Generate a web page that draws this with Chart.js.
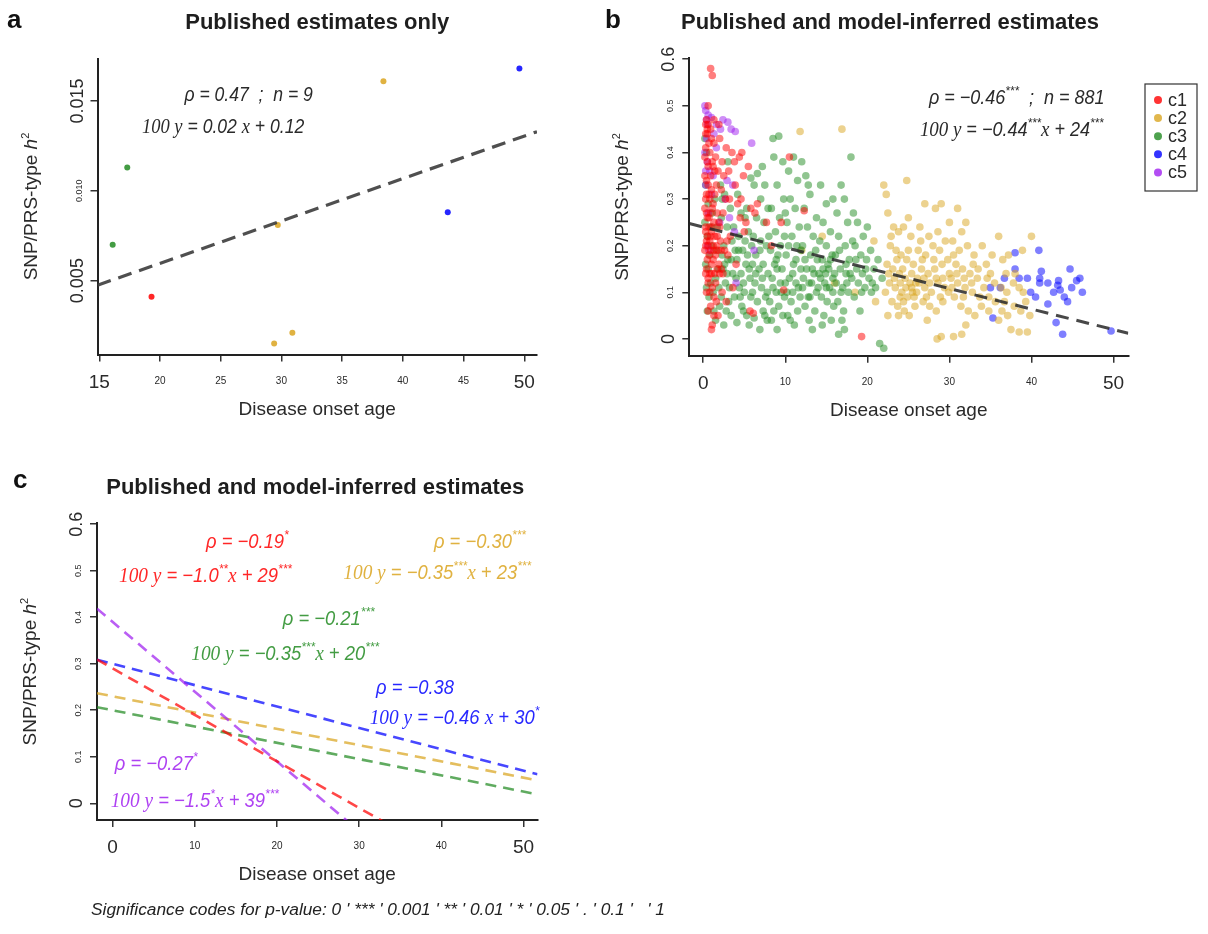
<!DOCTYPE html>
<html>
<head>
<meta charset="utf-8">
<script src="https://cdn.jsdelivr.net/npm/chart.js@4/dist/chart.umd.min.js"></script>
<style>
  html, body { margin: 0; padding: 0; background: #fff; }
  #wrap { position: relative; width: 1208px; height: 934px; overflow: hidden; background: #fff; }
  canvas { position: absolute; }
</style>
</head>
<body>
<div id="wrap">
  <canvas id="panelA" width="580" height="430" style="left:0;top:0"></canvas>
  <canvas id="panelB" width="618" height="430" style="left:590px;top:0"></canvas>
  <canvas id="panelC" width="700" height="494" style="left:0;top:440px"></canvas>
</div>
<script>
// ---------- groups ----------
const groupNames = ['c1', 'c2', 'c3', 'c4', 'c5'];
const groupRGB = ['255,0,0', '218,165,32', '34,139,34', '0,0,255', '160,32,240'];

// ---------- panel a: published estimates only ----------
const pubAge = [16.1, 17.3, 19.3, 29.4, 30.9, 29.7, 38.4, 43.7, 49.6];
const pubH2 = [0.0070, 0.0113, 0.0041, 0.0015, 0.0021, 0.0081, 0.0161, 0.0088, 0.0168];
const pubGroup = [2, 2, 0, 1, 1, 1, 1, 3, 3];
const pubRho = 0.47;
const pubN = 9;
const pubSlope = 0.0236;     // 100*h2 per year of onset age
const pubIntercept = 0.124;  // 100*h2
const ticksAX = [15, 20, 25, 30, 35, 40, 45, 50];
const ticksAY = [0.005, 0.010, 0.015];

// ---------- panel b: published and model-inferred estimates ----------
const inferredC1 = [
  [0.9,0.58],[1.1,0.565],[0.6,0.50],[0.4,0.47],[0.6,0.46],[0.5,0.45],[0.3,0.44],[1.9,0.46],
  [1.0,0.43],[2.0,0.43],[1.3,0.42],[0.3,0.41],[2.8,0.41],[0.8,0.40],[1.5,0.39],[0.5,0.38],
  [1.2,0.37],[1.8,0.36],[0.2,0.35],[0.9,0.35],[2.5,0.35],[3.1,0.36],[0.6,0.33],[1.6,0.33],
  [2.2,0.32],[0.4,0.31],[1.4,0.31],[0.3,0.30],[0.8,0.30],[0.2,0.28],[1.1,0.28],[1.7,0.27],
  [2.4,0.27],[0.5,0.26],[0.7,0.26],[1.9,0.25],[0.7,0.24],[0.3,0.23],[1.0,0.23],[1.4,0.22],
  [0.4,0.21],[2.1,0.21],[0.8,0.21],[0.6,0.20],[1.2,0.20],[1.6,0.20],[0.2,0.19],[0.9,0.19],
  [1.8,0.19],[2.6,0.19],[1.5,0.18],[3.0,0.18],[0.5,0.17],[1.0,0.16],[0.3,0.14],[0.8,0.14],
  [1.4,0.14],[2.0,0.14],[2.4,0.14],[0.6,0.12],[1.1,0.11],[0.4,0.10],[1.6,0.08],[0.9,0.07],
  [1.3,0.05],[1.1,0.03],[1.0,0.02],[3.5,0.40],[4.7,0.40],[4.4,0.39],[3.8,0.38],[4.9,0.35],
  [4.2,0.29],[5.8,0.28],[6.6,0.29],[6.3,0.27],[5.2,0.25],[3.3,0.22],[5.0,0.23],[4.0,0.16],
  [3.6,0.11],[2.8,0.08],[5.7,0.06],[6.1,0.055],[7.7,0.25],[8.3,0.20],[9.5,0.25],[9.8,0.105],
  [10.5,0.39],[12.3,0.275],[19.3,0.005],
  [0.5,0.44],[0.7,0.42],[0.2,0.39],[1.1,0.38],[0.6,0.37],[1.4,0.36],[0.4,0.34],[1.0,0.32],
  [0.7,0.31],[1.2,0.29],[0.4,0.27],[0.9,0.27],[1.3,0.25],[0.3,0.24],[1.1,0.24],[0.5,0.22],
  [0.9,0.22],[1.7,0.22],[0.3,0.20],[1.3,0.19],[2.2,0.19],[0.7,0.18],[1.2,0.17],[1.9,0.16],
  [0.4,0.15],[1.7,0.15],[2.2,0.15],[1.0,0.14],[0.6,0.13],[1.5,0.12],[0.8,0.10],[2.3,0.10],
  [1.3,0.09],[0.6,0.06],[1.8,0.05],[0.3,0.46],[0.9,0.45],[1.3,0.47],[2.3,0.38],[2.7,0.30],
  [3.2,0.30],[4.5,0.26],[3.9,0.33],[2.0,0.24],[2.9,0.21],[5.5,0.37],[4.6,0.30]
];
const inferredC2 = [
  [11.8,0.445],[16.9,0.45],[12.0,0.19],[14.5,0.22],[16.0,0.12],[18.5,0.10],[20.8,0.21],[21.0,0.08],
  [22.0,0.33],[22.3,0.31],[24.8,0.34],[22.5,0.27],[23.2,0.24],[23.8,0.23],[24.4,0.24],[25.3,0.22],
  [22.8,0.20],[23.5,0.19],[24.1,0.18],[24.8,0.17],[25.6,0.16],[22.4,0.16],[23.1,0.15],[23.9,0.14],
  [24.6,0.13],[25.2,0.12],[25.9,0.12],[22.7,0.12],[23.4,0.11],[24.2,0.10],[24.9,0.09],[25.5,0.10],
  [23.0,0.08],[23.7,0.07],[24.5,0.06],[25.1,0.05],[25.8,0.07],[24.0,0.09],[22.2,0.10],[24.3,0.15],
  [25.4,0.14],[27.0,0.29],[26.4,0.24],[27.5,0.22],[28.3,0.28],[29.0,0.29],[26.2,0.19],[27.1,0.18],
  [28.0,0.20],[28.8,0.19],[29.5,0.21],[26.6,0.15],[27.4,0.14],[28.2,0.15],[29.1,0.16],[29.8,0.17],
  [26.3,0.12],[27.0,0.11],[27.8,0.10],[28.6,0.12],[29.4,0.11],[26.8,0.08],[27.6,0.07],[28.4,0.06],
  [29.2,0.08],[29.9,0.10],[28.5,0.00],[29.0,0.005],[30.0,0.25],[26.0,0.10],[27.3,0.04],[30.5,0.005],
  [31.0,0.28],[32.0,0.25],[30.4,0.21],[31.2,0.19],[32.2,0.20],[33.0,0.18],[30.8,0.16],[31.6,0.15],
  [32.5,0.14],[33.4,0.13],[30.2,0.13],[31.0,0.12],[31.9,0.11],[32.8,0.10],[33.7,0.09],[30.6,0.09],
  [31.4,0.07],[32.3,0.06],[33.1,0.05],[33.9,0.07],[32.0,0.03],[31.5,0.01],[34.0,0.20],[33.5,0.15],
  [34.5,0.16],[35.0,0.14],[36.0,0.22],[36.5,0.17],[37.2,0.18],[35.5,0.12],[36.3,0.11],[37.0,0.10],
  [37.8,0.12],[38.5,0.11],[34.8,0.09],[35.6,0.08],[36.4,0.06],[37.1,0.05],[37.9,0.07],[38.7,0.06],
  [39.3,0.08],[39.8,0.05],[40.0,0.22],[37.5,0.02],[38.5,0.015],[39.5,0.015],[36.0,0.04],[38.0,0.14],
  [34.2,0.11],
  [22.6,0.14],[23.3,0.13],[24.0,0.12],[24.7,0.11],[25.4,0.11],[26.1,0.13],[26.9,0.13],[27.6,0.12],
  [28.4,0.13],[29.2,0.13],[30.0,0.14],[30.9,0.14],[31.8,0.13],[32.7,0.12],[23.6,0.17],[25.0,0.19],
  [26.7,0.17],[28.1,0.17],[30.5,0.18],[32.9,0.16],[23.8,0.05],[25.7,0.09],[27.2,0.09],[28.9,0.09],
  [30.3,0.11],[31.7,0.09],[34.6,0.13],[36.9,0.14],[35.2,0.18],[38.9,0.19],[22.9,0.22],[26.5,0.21],
  [25.0,0.26],[28.6,0.23],[31.5,0.23],[34.8,0.06],[36.7,0.08],[39.0,0.10],[24.4,0.08],[22.5,0.05]
];
const inferredC3 = [
  [0.2,0.43],[0.4,0.40],[0.3,0.33],[0.6,0.29],[0.2,0.25],[0.5,0.22],[0.8,0.18],[0.3,0.16],
  [0.9,0.12],[0.4,0.11],[1.2,0.10],[1.5,0.13],[1.8,0.15],[1.1,0.27],[1.4,0.30],[1.7,0.24],
  [1.9,0.11],[0.7,0.09],[2.1,0.33],[2.3,0.30],[2.6,0.31],[2.2,0.26],[2.9,0.24],[3.3,0.28],
  [2.5,0.20],[3.0,0.17],[2.4,0.15],[3.6,0.14],[2.7,0.12],[3.2,0.11],[2.2,0.09],[3.8,0.09],
  [2.8,0.06],[3.4,0.05],[2.5,0.03],[3.9,0.19],[3.5,0.21],[2.0,0.07],[4.2,0.31],[4.6,0.27],
  [5.1,0.26],[4.3,0.22],[5.5,0.23],[4.8,0.19],[5.9,0.20],[4.1,0.17],[5.2,0.16],[4.6,0.14],
  [5.7,0.13],[4.4,0.11],[5.0,0.10],[5.8,0.09],[4.7,0.07],[5.3,0.05],[4.1,0.035],[5.6,0.03],
  [5.8,0.345],[4.9,0.12],[5.4,0.18],[6.6,0.355],[6.2,0.33],[7.0,0.30],[6.5,0.26],[7.4,0.25],
  [6.1,0.22],[7.0,0.21],[7.7,0.20],[6.4,0.18],[7.3,0.16],[6.8,0.15],[7.9,0.14],[6.3,0.12],
  [7.1,0.11],[7.6,0.09],[6.6,0.08],[7.3,0.06],[6.2,0.045],[7.8,0.04],[6.9,0.02],[6.0,0.10],
  [7.5,0.33],[8.5,0.43],[9.2,0.435],[8.6,0.39],[9.7,0.38],[9.0,0.33],[9.8,0.30],[8.3,0.28],
  [9.3,0.26],[8.8,0.23],[9.9,0.22],[8.2,0.19],[9.1,0.18],[8.7,0.16],[9.6,0.15],[8.4,0.13],
  [9.4,0.12],[8.9,0.10],[9.9,0.09],[8.1,0.08],[9.2,0.07],[8.6,0.06],[9.7,0.05],[8.3,0.04],
  [9.0,0.02],[9.5,0.10],[11.0,0.39],[10.4,0.36],[11.5,0.34],[10.6,0.30],[11.2,0.28],[10.2,0.25],
  [11.7,0.24],[10.8,0.22],[11.4,0.20],[10.1,0.18],[11.0,0.16],[11.9,0.15],[10.5,0.13],[11.3,0.12],
  [10.2,0.10],[11.8,0.09],[10.7,0.08],[11.5,0.06],[10.3,0.05],[11.1,0.03],[10.9,0.14],[12.0,0.38],
  [12.5,0.35],[13.0,0.31],[12.3,0.28],[13.8,0.26],[12.7,0.24],[13.4,0.22],[12.1,0.20],[13.1,0.18],
  [13.9,0.17],[12.6,0.15],[13.5,0.14],[12.2,0.13],[13.2,0.12],[13.8,0.10],[12.8,0.09],[12.4,0.07],
  [13.6,0.06],[12.9,0.04],[13.3,0.02],[12.1,0.11],[14.3,0.33],[15.0,0.29],[14.6,0.25],[15.5,0.23],
  [14.2,0.21],[15.0,0.20],[15.7,0.18],[14.5,0.17],[15.3,0.15],[14.1,0.14],[15.8,0.13],[14.8,0.12],
  [15.4,0.11],[14.4,0.09],[15.1,0.08],[15.9,0.07],[14.7,0.05],[15.6,0.04],[14.9,0.14],[15.2,0.16],
  [16.8,0.33],[17.2,0.30],[16.3,0.27],[17.6,0.25],[16.5,0.22],[17.3,0.20],[16.1,0.18],[17.8,0.17],
  [16.7,0.15],[17.4,0.14],[16.2,0.12],[17.0,0.11],[17.7,0.10],[16.4,0.08],[17.1,0.06],[16.9,0.04],
  [16.5,0.01],[17.2,0.02],[18.0,0.39],[17.5,0.12],[18.3,0.27],[18.8,0.25],[19.5,0.22],[18.5,0.20],
  [19.2,0.18],[19.9,0.17],[18.7,0.15],[19.4,0.14],[20.2,0.13],[18.9,0.12],[19.7,0.11],[20.5,0.10],
  [18.4,0.09],[20.0,0.24],[21.0,0.11],[20.8,0.15],[21.3,0.17],[21.5,-0.01],[22.0,-0.02],[19.1,0.06],
  [20.4,0.19],[21.8,0.13],
  [0.6,0.15],[1.0,0.20],[1.3,0.06],[2.6,0.16],[3.1,0.08],[3.7,0.24],[4.0,0.13],[4.5,0.09],
  [5.1,0.21],[5.6,0.15],[6.4,0.14],[6.9,0.19],[7.2,0.13],[7.8,0.10],[8.0,0.22],[8.5,0.11],
  [9.0,0.15],[9.4,0.20],[10.0,0.12],[10.4,0.20],[10.9,0.10],[11.3,0.17],[11.6,0.11],[12.4,0.17],
  [12.9,0.12],[13.3,0.15],[13.7,0.19],[14.0,0.11],[14.6,0.15],[15.0,0.11],[15.5,0.17],[16.0,0.14],
  [16.6,0.19],[16.8,0.10],[17.4,0.16],[18.1,0.13],[18.6,0.17],[19.3,0.10],[19.8,0.15],[20.6,0.12],
  [2.3,0.18],[3.4,0.17],[4.3,0.19],[6.0,0.16],[8.9,0.17],[11.9,0.19],[13.0,0.09],[14.3,0.13],
  [15.8,0.10],[17.9,0.14],[5.3,0.28],[7.9,0.28],[10.0,0.27],[1.6,0.19],[0.9,0.24],[2.9,0.14],
  [4.9,0.06],[7.5,0.05],[10.6,0.04],[14.5,0.03],[3.0,0.38],[7.2,0.37],[12.8,0.33],[15.8,0.30],
  [18.2,0.21],[0.5,0.06],[1.5,0.04]
];
const inferredC4 = [
  [35.0,0.11],[35.3,0.045],[36.7,0.13],[38.0,0.185],[38.0,0.15],[39.9,0.10],[40.9,0.19],[41.0,0.13],
  [41.2,0.145],[41.0,0.12],[42.7,0.10],[43.2,0.115],[43.5,0.105],[43.3,0.125],[44.0,0.09],[44.4,0.08],
  [44.7,0.15],[45.5,0.125],[46.2,0.10],[43.0,0.035],[43.8,0.01],[49.7,0.017],[38.5,0.13],[42.0,0.075],
  [36.2,0.11],[39.5,0.13],[40.5,0.09],[44.9,0.11],[45.9,0.13],[42.0,0.12]
];
const inferredC5 = [
  [0.2,0.50],[0.3,0.49],[0.6,0.48],[1.0,0.475],[1.6,0.46],[2.4,0.47],[3.0,0.465],[3.4,0.45],
  [3.9,0.445],[5.9,0.42],[0.5,0.46],[0.4,0.43],[0.2,0.40],[0.5,0.38],[0.3,0.36],[1.2,0.35],
  [2.7,0.30],[3.2,0.26],[2.9,0.34],[0.5,0.20],[0.7,0.19],[6.2,0.19],[1.6,0.41],[0.8,0.36],
  [3.8,0.23],[4.0,0.12],[0.4,0.47],[1.3,0.44],[2.1,0.45],[0.3,0.33],[1.0,0.31],[2.0,0.25],
  [0.6,0.27],[3.6,0.33]
];
const allRho = -0.46, allRhoStars = '***', allN = 881;
const allSlope = -0.44, allSlopeStars = '***';
const allIntercept = 24, allInterceptStars = '***';
const ticksBX = [0, 10, 20, 30, 40, 50];
const ticksBY = [0, 0.1, 0.2, 0.3, 0.4, 0.5, 0.6];

// ---------- panel c: per-group fits (100*h2 = intercept + slope*age) ----------
const groupRho = [-0.19, -0.30, -0.21, -0.38, -0.27];
const groupRhoStars = ['*', '***', '***', '', '*'];
const groupSlope = [-1.0, -0.35, -0.35, -0.46, -1.5];
const groupSlopeStars = ['**', '***', '***', '', '*'];
const groupIntercept = [29, 23, 20, 30, 39];
const groupInterceptStars = ['***', '***', '***', '*', '***'];

const sigNote = "Significance codes for p-value: 0 ' *** ' 0.001 ' ** ' 0.01 ' * ' 0.05 ' . ' 0.1 '   ' 1";

// ---------- drawing helpers ----------
const SANS = '"Liberation Sans", Arial, Helvetica, sans-serif';
const SERIF = '"Liberation Serif", "Times New Roman", serif';
const INK = '#2a2a2a';
const F_NOTE = `italic 20px ${SANS}`;
const F_SER = `italic 21px ${SERIF}`;
const F_SUP = `italic 13px ${SANS}`;

const rgba = (rgb, a) => `rgba(${rgb},${a})`;
const signed = (v, s) => (v < 0 ? '\u2212' : '') + s;
const fixed = (v, d) => signed(v, Math.abs(v).toFixed(d));
const sig2 = v => signed(v, Math.abs(v).toPrecision(2));

function measure(ctx, segs) {
  let w = 0;
  for (const s of segs) { ctx.font = s.font; w += ctx.measureText(s.t).width; }
  return w;
}
function drawRich(ctx, segs, x, y, o = {}) {
  const w0 = measure(ctx, segs);
  const sx = o.width ? o.width / w0 : (o.sx || 1);
  const w = w0 * sx;
  ctx.save();
  ctx.translate(x, y);
  if (o.rotate) ctx.rotate(o.rotate);
  const x0 = o.align === 'left' ? 0 : (o.align === 'right' ? -w : -w / 2);
  ctx.translate(x0, 0);
  ctx.scale(sx, 1);
  ctx.fillStyle = o.color || INK;
  ctx.textAlign = 'left';
  ctx.textBaseline = 'alphabetic';
  let p = 0;
  for (const s of segs) {
    ctx.font = s.font;
    ctx.fillText(s.t, p, -(s.rise || 0));
    p += ctx.measureText(s.t).width;
  }
  ctx.restore();
}
function rhoSegs(rho, stars, tail) {
  const s = [{ t: '\u03C1 = ' + fixed(rho, 2), font: F_NOTE }];
  if (stars) s.push({ t: stars, font: F_SUP, rise: 9 });
  if (tail) s.push({ t: tail, font: F_NOTE });
  return s;
}
function eqSegs(slopeTxt, sStars, intTxt, iStars) {
  const s = [{ t: '100 y', font: F_SER }, { t: ' = ' + slopeTxt, font: F_NOTE }];
  if (sStars) s.push({ t: sStars, font: F_SUP, rise: 9 });
  else s.push({ t: ' ', font: F_NOTE });
  s.push({ t: 'x', font: F_SER }, { t: ' + ' + intTxt, font: F_NOTE });
  if (iStars) s.push({ t: iStars, font: F_SUP, rise: 9 });
  return s;
}

// axis frame: left and bottom lines with outward tick marks at fixed values
function axis(pos, min, max, ticks, size) {
  return {
    type: 'linear', position: pos, min, max,
    afterBuildTicks: s => { s.ticks = ticks.map(v => ({ value: v })); },
    afterFit: s => { if (pos === 'left') s.width = size; else s.height = size; },
    ticks: { display: false },
    grid: { drawOnChartArea: false, drawTicks: true, tickLength: 7, color: '#333', lineWidth: 1.5 },
    border: { display: true, color: '#222', width: 2 }
  };
}

// tick labels, axis titles, panel title and letter
function drawFrameText(chart, spec) {
  const { ctx, chartArea: a, scales: { x, y } } = chart;
  ctx.save();
  ctx.fillStyle = INK;
  spec.xt.forEach((v, i, arr) => {
    const big = i === 0 || i === arr.length - 1;
    ctx.font = big ? `19px ${SANS}` : `10px ${SANS}`;
    ctx.textAlign = 'center';
    ctx.textBaseline = 'alphabetic';
    ctx.fillText(String(v), x.getPixelForValue(v), a.bottom + (big ? 33 : 29));
  });
  spec.yt.forEach((v, i, arr) => {
    const big = i === 0 || i === arr.length - 1;
    ctx.save();
    ctx.translate(a.left - (big ? 15 : 16), y.getPixelForValue(v));
    ctx.rotate(-Math.PI / 2);
    ctx.font = big ? `18px ${SANS}` : `9px ${SANS}`;
    ctx.textAlign = 'center';
    ctx.textBaseline = 'alphabetic';
    ctx.fillText(spec.yfmt(v), 0, 0);
    ctx.restore();
  });
  // axis titles
  ctx.font = `19px ${SANS}`;
  ctx.textAlign = 'center';
  ctx.fillText('Disease onset age', (a.left + a.right) / 2, a.bottom + 60);
  drawRich(ctx, [
    { t: 'SNP/PRS-type ', font: `19px ${SANS}` },
    { t: 'h', font: `italic 19px ${SANS}` },
    { t: '2', font: `11px ${SANS}`, rise: 8 }
  ], a.left - 61, (a.top + a.bottom) / 2, { rotate: -Math.PI / 2 });
  // title and panel letter
  ctx.font = `bold 22px ${SANS}`;
  ctx.textAlign = 'center';
  ctx.fillStyle = '#1e1e1e';
  ctx.fillText(spec.title, spec.titleX, a.top - 29.5);
  ctx.font = `bold 26px ${SANS}`;
  ctx.textAlign = 'left';
  ctx.fillStyle = '#111';
  ctx.fillText(spec.letter, spec.letterX, spec.letterY);
  ctx.restore();
}

const baseOptions = (scales, padding) => ({
  responsive: false,
  animation: false,
  devicePixelRatio: 1,
  events: [],
  layout: { padding },
  scales,
  plugins: { legend: { display: false }, tooltip: { enabled: false } }
});

// ================= panel a =================
const aX = [14.85, 51.05], aY = [0.00089, 0.01736];
new Chart(document.getElementById('panelA'), {
  type: 'scatter',
  data: {
    datasets: [
      {
        type: 'line',
        data: aX.map(v => ({ x: v, y: (pubIntercept + pubSlope * v) / 100 })),
        borderColor: 'rgba(60,60,60,0.9)', borderWidth: 3.2, borderDash: [14, 8],
        pointRadius: 0, fill: false
      },
      {
        data: pubAge.map((v, i) => ({ x: v, y: pubH2[i] })),
        backgroundColor: pubGroup.map(g => rgba(groupRGB[g], 0.85)),
        borderWidth: 0, pointRadius: 3
      }
    ]
  },
  options: baseOptions(
    { x: axis('bottom', aX[0], aX[1], ticksAX, 75.5), y: axis('left', aY[0], aY[1], ticksAY, 97.5) },
    { left: 0, top: 58.5, right: 43, bottom: 0 }
  ),
  plugins: [{
    id: 'panelAText',
    afterDraw(chart) {
      const { ctx, chartArea: a, scales: { x, y } } = chart;
      drawFrameText(chart, {
        xt: ticksAX, yt: ticksAY, yfmt: v => v.toFixed(3),
        title: 'Published estimates only', titleX: (a.left + a.right) / 2, letter: 'a', letterX: 7, letterY: 28
      });
      drawRich(ctx, rhoSegs(pubRho, '', '  ;  n = ' + pubN),
        x.getPixelForValue(27.3), y.getPixelForValue(0.01537) + 7, { sx: 0.88 });
      drawRich(ctx, eqSegs(fixed(pubSlope, 2), '', fixed(pubIntercept, 2), ''),
        x.getPixelForValue(25.2), y.getPixelForValue(0.01359) + 7, { sx: 0.88 });
    }
  }]
});

// ================= panel b =================
const bX = [-1.7, 51.8], bY = [-0.036, 0.602];
const inferred = [inferredC1, inferredC2, inferredC3, inferredC4, inferredC5];
const drawOrderB = [0, 4, 2, 1, 3]; // first listed is painted on top
new Chart(document.getElementById('panelB'), {
  type: 'scatter',
  data: {
    datasets: [
      {
        type: 'line',
        data: bX.map(v => ({ x: v, y: (allIntercept + allSlope * v) / 100 })),
        borderColor: 'rgba(40,40,40,0.85)', borderWidth: 3, borderDash: [13, 8],
        pointRadius: 0, fill: false
      },
      ...drawOrderB.map(g => ({
        data: inferred[g].map(p => ({ x: p[0], y: p[1] })),
        backgroundColor: rgba(groupRGB[g], 0.5),
        borderWidth: 0, pointRadius: 3.8
      }))
    ]
  },
  options: baseOptions(
    { x: axis('bottom', bX[0], bX[1], ticksBX, 74.3), y: axis('left', bY[0], bY[1], ticksBY, 99.3) },
    { left: 0, top: 58.3, right: 79.7, bottom: 0 }
  ),
  plugins: [{
    id: 'panelBText',
    afterDraw(chart) {
      const { ctx, scales: { x, y } } = chart;
      drawFrameText(chart, {
        xt: ticksBX, yt: ticksBY, yfmt: v => String(v),
        title: 'Published and model-inferred estimates', titleX: 300, letter: 'b', letterX: 15, letterY: 28
      });
      drawRich(ctx, rhoSegs(allRho, allRhoStars, '  ;  n = ' + allN),
        x.getPixelForValue(38.2), y.getPixelForValue(0.519) + 7, { sx: 0.9 });
      drawRich(ctx, eqSegs(sig2(allSlope), allSlopeStars, sig2(allIntercept), allInterceptStars),
        x.getPixelForValue(37.6), y.getPixelForValue(0.451) + 7, { sx: 0.9 });
      // legend
      const lx = 555, ly = 84, lw = 52, lh = 107;
      ctx.save();
      ctx.strokeStyle = '#333';
      ctx.lineWidth = 1.2;
      ctx.strokeRect(lx, ly, lw, lh);
      groupNames.forEach((name, i) => {
        const cy = ly + 16 + i * 18.1;
        ctx.beginPath();
        ctx.arc(lx + 13, cy, 4, 0, Math.PI * 2);
        ctx.fillStyle = rgba(groupRGB[i], 0.8);
        ctx.fill();
        ctx.fillStyle = INK;
        ctx.font = `18px ${SANS}`;
        ctx.textAlign = 'left';
        ctx.textBaseline = 'middle';
        ctx.fillText(name, lx + 23, cy + 1);
      });
      ctx.restore();
    }
  }]
});

// ================= panel c =================
const cX = [-1.9, 51.7], cY = [-0.036, 0.602];
const labelAnchorsC = [
  { rho: [16.4, 0.565], eq: [11.3, 0.49] },
  { rho: [44.7, 0.565], eq: [39.5, 0.497] },
  { rho: [26.3, 0.398], eq: [21.0, 0.323] },
  { rho: [36.8, 0.250], eq: [41.6, 0.185] },
  { rho: [5.3, 0.087], eq: [10.0, 0.007] }
];
const drawOrderC = [0, 4, 3, 1, 2];
new Chart(document.getElementById('panelC'), {
  type: 'scatter',
  data: {
    datasets: drawOrderC.map(g => ({
      type: 'line',
      data: cX.map(v => ({ x: v, y: (groupIntercept[g] + groupSlope[g] * v) / 100 })),
      borderColor: rgba(groupRGB[g], 0.72), borderWidth: 2.6, borderDash: [11, 7],
      pointRadius: 0, fill: false
    }))
  },
  options: baseOptions(
    { x: axis('bottom', cX[0], cX[1], ticksBX, 114), y: axis('left', cY[0], cY[1], ticksBY, 97) },
    { left: 0, top: 83.3, right: 162.5, bottom: 0 }
  ),
  plugins: [{
    id: 'panelCText',
    afterDraw(chart) {
      const { ctx, chartArea: a, scales: { x, y } } = chart;
      drawFrameText(chart, {
        xt: ticksBX, yt: ticksBY, yfmt: v => String(v),
        title: 'Published and model-inferred estimates', titleX: (a.left + a.right) / 2 - 2,
        letter: 'c', letterX: 13, letterY: 48
      });
      groupNames.forEach((name, g) => {
        const col = rgba(groupRGB[g], 0.85);
        const an = labelAnchorsC[g];
        drawRich(ctx, rhoSegs(groupRho[g], groupRhoStars[g]),
          x.getPixelForValue(an.rho[0]), y.getPixelForValue(an.rho[1]) + 7, { sx: 0.92, color: col });
        drawRich(ctx, eqSegs(sig2(groupSlope[g]), groupSlopeStars[g], sig2(groupIntercept[g]), groupInterceptStars[g]),
          x.getPixelForValue(an.eq[0]), y.getPixelForValue(an.eq[1]) + 7, { sx: 0.92, color: col });
      });
      // significance footnote
      drawRich(ctx, [{ t: sigNote, font: `italic 16px ${SANS}` }], 91, 475, { align: 'left', width: 574, color: '#222' });
    }
  }]
});
</script>
</body>
</html>
